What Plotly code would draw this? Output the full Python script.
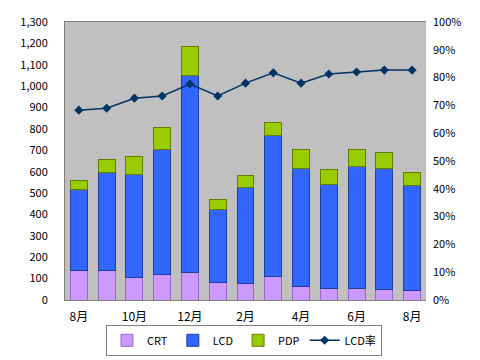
import plotly.graph_objects as go

months = ["8月", "9月", "10月", "11月", "12月", "1月", "2月", "3月", "4月", "5月", "6月", "7月", "8月"]
crt = [138, 138, 106, 120, 129, 82, 77, 110, 63, 54, 52, 49, 45]
lcd = [381, 456, 483, 586, 920, 343, 451, 657, 554, 488, 570, 568, 492]
pdp = [42, 65, 80, 99, 136, 47, 52, 61, 89, 66, 84, 75, 57]
lcd_rate = [68.3, 69.0, 72.6, 73.4, 77.7, 73.4, 78.0, 81.7, 78.0, 81.3, 82.0, 82.7, 82.7]

x = list(range(len(months)))
font = "Noto Sans CJK JP"

fig = go.Figure()
fig.add_trace(go.Bar(x=x, y=crt, name="CRT", marker=dict(color="#CC99FF", line=dict(color="#9966CC", width=1))))
fig.add_trace(go.Bar(x=x, y=lcd, name="LCD", marker=dict(color="#3366FF", line=dict(color="#1F3F9F", width=1))))
fig.add_trace(go.Bar(x=x, y=pdp, name="PDP", marker=dict(color="#99CC00", line=dict(color="#667F00", width=1))))
fig.add_trace(go.Scatter(x=x, y=lcd_rate, name="LCD率", yaxis="y2", mode="lines+markers",
                         line=dict(color="#003366", width=1.5),
                         marker=dict(symbol="diamond", size=7, color="#003366")))

fig.update_layout(
    width=472, height=352,
    margin=dict(l=57, r=54, t=14, b=60, autoexpand=False),
    barmode="stack", bargap=0.39,
    paper_bgcolor="white", plot_bgcolor="#C0C0C0",
    font=dict(family=font, size=11, color="black"),
    showlegend=True,
    legend=dict(orientation="h", x=0.5, xanchor="center", xref="container",
                y=0.1, yanchor="top", yref="container",
                bordercolor="#808080", borderwidth=1, font=dict(size=11),
                traceorder="normal", itemwidth=30),
    xaxis=dict(range=[-0.5, 12.5], tickvals=x[::2], ticktext=months[::2],
               showgrid=False, zeroline=False, showline=True, linecolor="#808080",
               mirror=True, ticks="", tickfont=dict(size=12), ticklabelstandoff=6,
               automargin=False),
    yaxis=dict(range=[0, 1300], dtick=100, tickformat=",d", showgrid=False, zeroline=False,
               showline=True, linecolor="#808080", ticks="", ticklabelstandoff=14,
               automargin=False),
    yaxis2=dict(range=[0, 100], dtick=10, ticksuffix="%", overlaying="y", side="right",
                showgrid=False, zeroline=False, showline=False, ticks="", ticklabelstandoff=6,
                automargin=False),
)

fig.write_html("out.html")
